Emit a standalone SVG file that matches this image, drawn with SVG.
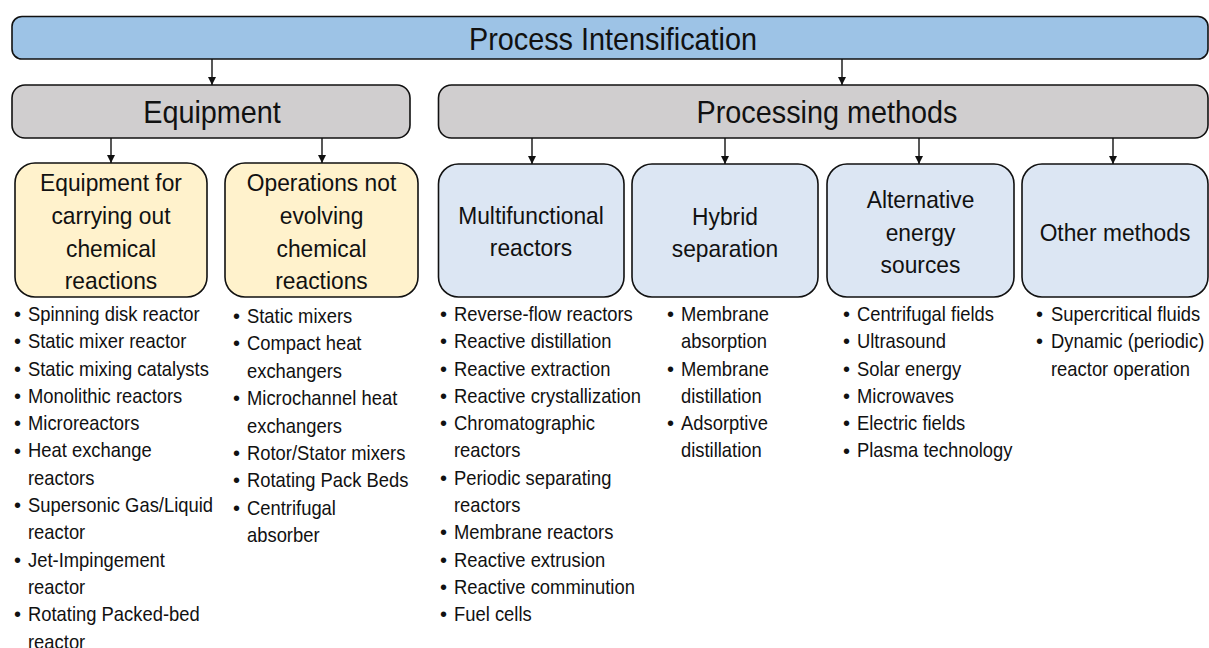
<svg xmlns="http://www.w3.org/2000/svg" width="1209" height="648" viewBox="0 0 1209 648">
<style>
text{font-family:"Liberation Sans",Arial,sans-serif;fill:#111}
.box{stroke:#111;stroke-width:1.6}
.top{fill:#9dc3e6}
.gray{fill:#d0cecf}
.yel{fill:#fff2cc}
.blu{fill:#dce6f3}
.h1{font-size:32px;text-anchor:middle}
.h2{font-size:24px;text-anchor:middle}
.li{font-size:20px}
.conn line{stroke:#111;stroke-width:1.4;marker-end:url(#ah)}
</style>
<defs>
<marker id="ah" markerUnits="userSpaceOnUse" markerWidth="8" markerHeight="8" refX="8" refY="4" orient="auto">
<path d="M0,0 L8,4 L0,8 z" fill="#111"/>
</marker>
</defs>
<rect width="1209" height="648" fill="#fff"/>

<g id="n-pi">
<rect class="box top" x="12" y="16.5" width="1196" height="42.5" rx="10"/>
<text class="h1" transform="translate(613,50) scale(0.9,1)">Process Intensification</text>
</g>
<g id="n-equipment">
<rect class="box gray" x="12" y="85" width="398" height="53" rx="13"/>
<text class="h1" transform="translate(212,123) scale(0.9,1)">Equipment</text>
</g>
<g id="n-methods">
<rect class="box gray" x="438.5" y="85" width="769.5" height="53" rx="13"/>
<text class="h1" transform="translate(827,123) scale(0.9,1)">Processing methods</text>
</g>

<g id="n-eq-chem">
<rect class="box yel" x="15" y="163" width="192" height="134" rx="20"/>
<g transform="translate(111,0) scale(0.95,1)">
<text class="h2" x="0" y="191">Equipment for</text>
<text class="h2" x="0" y="224">carrying out</text>
<text class="h2" x="0" y="257">chemical</text>
<text class="h2" x="0" y="289">reactions</text>
</g>
</g>
<g id="n-eq-nochem">
<rect class="box yel" x="225" y="163" width="193" height="134" rx="20"/>
<g transform="translate(321.5,0) scale(0.95,1)">
<text class="h2" x="0" y="191">Operations not</text>
<text class="h2" x="0" y="224">evolving</text>
<text class="h2" x="0" y="257">chemical</text>
<text class="h2" x="0" y="289">reactions</text>
</g>
</g>
<g id="n-multi">
<rect class="box blu" x="438.5" y="164" width="185.5" height="133" rx="20"/>
<g transform="translate(531,0) scale(0.95,1)">
<text class="h2" x="0" y="224">Multifunctional</text>
<text class="h2" x="0" y="256">reactors</text>
</g>
</g>
<g id="n-hybrid">
<rect class="box blu" x="632" y="164" width="186" height="133" rx="20"/>
<g transform="translate(725,0) scale(0.95,1)">
<text class="h2" x="0" y="225">Hybrid</text>
<text class="h2" x="0" y="257">separation</text>
</g>
</g>
<g id="n-energy">
<rect class="box blu" x="827" y="164" width="187" height="133" rx="20"/>
<g transform="translate(920.5,0) scale(0.95,1)">
<text class="h2" x="0" y="208">Alternative</text>
<text class="h2" x="0" y="241">energy</text>
<text class="h2" x="0" y="273">sources</text>
</g>
</g>
<g id="n-other">
<rect class="box blu" x="1022" y="164" width="186" height="133" rx="20"/>
<g transform="translate(1115,0) scale(0.95,1)">
<text class="h2" x="0" y="241">Other methods</text>
</g>
</g>

<g id="list-eq-chem">
<g class="li">
<text class="li" x="14" y="321">•</text><text class="li" x="14" y="348.3">•</text><text class="li" x="14" y="375.6">•</text><text class="li" x="14" y="402.9">•</text><text class="li" x="14" y="430.2">•</text><text class="li" x="14" y="457.5">•</text><text class="li" x="14" y="512.1">•</text><text class="li" x="14" y="566.7">•</text><text class="li" x="14" y="621.3">•</text>
</g>
<g transform="translate(28,0) scale(0.92,1)">
<text class="li" x="0" y="321">Spinning disk reactor</text>
<text class="li" x="0" y="348.3">Static mixer reactor</text>
<text class="li" x="0" y="375.6">Static mixing catalysts</text>
<text class="li" x="0" y="402.9">Monolithic reactors</text>
<text class="li" x="0" y="430.2">Microreactors</text>
<text class="li" x="0" y="457.5">Heat exchange</text>
<text class="li" x="0" y="484.8">reactors</text>
<text class="li" x="0" y="512.1">Supersonic Gas/Liquid</text>
<text class="li" x="0" y="539.4">reactor</text>
<text class="li" x="0" y="566.7">Jet-Impingement</text>
<text class="li" x="0" y="594">reactor</text>
<text class="li" x="0" y="621.3">Rotating Packed-bed</text>
<text class="li" x="0" y="648.6">reactor</text>
</g>
</g>

<g id="list-eq-nochem">
<text class="li" x="233" y="323">•</text><text class="li" x="233" y="350.4">•</text><text class="li" x="233" y="405.2">•</text><text class="li" x="233" y="460">•</text><text class="li" x="233" y="487.4">•</text><text class="li" x="233" y="514.8">•</text>
<g transform="translate(247,0) scale(0.92,1)">
<text class="li" x="0" y="323">Static mixers</text>
<text class="li" x="0" y="350.4">Compact heat</text>
<text class="li" x="0" y="377.8">exchangers</text>
<text class="li" x="0" y="405.2">Microchannel heat</text>
<text class="li" x="0" y="432.6">exchangers</text>
<text class="li" x="0" y="460">Rotor/Stator mixers</text>
<text class="li" x="0" y="487.4">Rotating Pack Beds</text>
<text class="li" x="0" y="514.8">Centrifugal</text>
<text class="li" x="0" y="542.2">absorber</text>
</g>
</g>

<g id="list-multi">
<text class="li" x="440" y="321">•</text><text class="li" x="440" y="348.3">•</text><text class="li" x="440" y="375.6">•</text><text class="li" x="440" y="402.9">•</text><text class="li" x="440" y="430.2">•</text><text class="li" x="440" y="484.8">•</text><text class="li" x="440" y="539.4">•</text><text class="li" x="440" y="566.7">•</text><text class="li" x="440" y="594">•</text><text class="li" x="440" y="621.3">•</text>
<g transform="translate(454,0) scale(0.92,1)">
<text class="li" x="0" y="321">Reverse-flow reactors</text>
<text class="li" x="0" y="348.3">Reactive distillation</text>
<text class="li" x="0" y="375.6">Reactive extraction</text>
<text class="li" x="0" y="402.9">Reactive crystallization</text>
<text class="li" x="0" y="430.2">Chromatographic</text>
<text class="li" x="0" y="457.5">reactors</text>
<text class="li" x="0" y="484.8">Periodic separating</text>
<text class="li" x="0" y="512.1">reactors</text>
<text class="li" x="0" y="539.4">Membrane reactors</text>
<text class="li" x="0" y="566.7">Reactive extrusion</text>
<text class="li" x="0" y="594">Reactive comminution</text>
<text class="li" x="0" y="621.3">Fuel cells</text>
</g>
</g>

<g id="list-hybrid">
<text class="li" x="667" y="321">•</text><text class="li" x="667" y="375.6">•</text><text class="li" x="667" y="430.2">•</text>
<g transform="translate(681,0) scale(0.92,1)">
<text class="li" x="0" y="321">Membrane</text>
<text class="li" x="0" y="348.3">absorption</text>
<text class="li" x="0" y="375.6">Membrane</text>
<text class="li" x="0" y="402.9">distillation</text>
<text class="li" x="0" y="430.2">Adsorptive</text>
<text class="li" x="0" y="457.5">distillation</text>
</g>
</g>

<g id="list-energy">
<text class="li" x="843" y="321">•</text><text class="li" x="843" y="348.3">•</text><text class="li" x="843" y="375.6">•</text><text class="li" x="843" y="402.9">•</text><text class="li" x="843" y="430.2">•</text><text class="li" x="843" y="457.5">•</text>
<g transform="translate(857,0) scale(0.92,1)">
<text class="li" x="0" y="321">Centrifugal fields</text>
<text class="li" x="0" y="348.3">Ultrasound</text>
<text class="li" x="0" y="375.6">Solar energy</text>
<text class="li" x="0" y="402.9">Microwaves</text>
<text class="li" x="0" y="430.2">Electric fields</text>
<text class="li" x="0" y="457.5">Plasma technology</text>
</g>
</g>

<g id="list-other">
<text class="li" x="1036" y="321">•</text><text class="li" x="1036" y="348.3">•</text>
<g transform="translate(1051,0) scale(0.92,1)">
<text class="li" x="0" y="321">Supercritical fluids</text>
<text class="li" x="0" y="348.3">Dynamic (periodic)</text>
<text class="li" x="0" y="375.6">reactor operation</text>
</g>
</g>

<g id="connectors" class="conn">
<line x1="212" y1="59" x2="212" y2="85"/>
<line x1="842" y1="59" x2="842" y2="85"/>
<line x1="111" y1="138" x2="111" y2="163"/>
<line x1="322" y1="138" x2="322" y2="163"/>
<line x1="532" y1="138" x2="532" y2="164"/>
<line x1="725" y1="138" x2="725" y2="164"/>
<line x1="919" y1="138" x2="919" y2="164"/>
<line x1="1113" y1="138" x2="1113" y2="164"/>
</g>
</svg>
